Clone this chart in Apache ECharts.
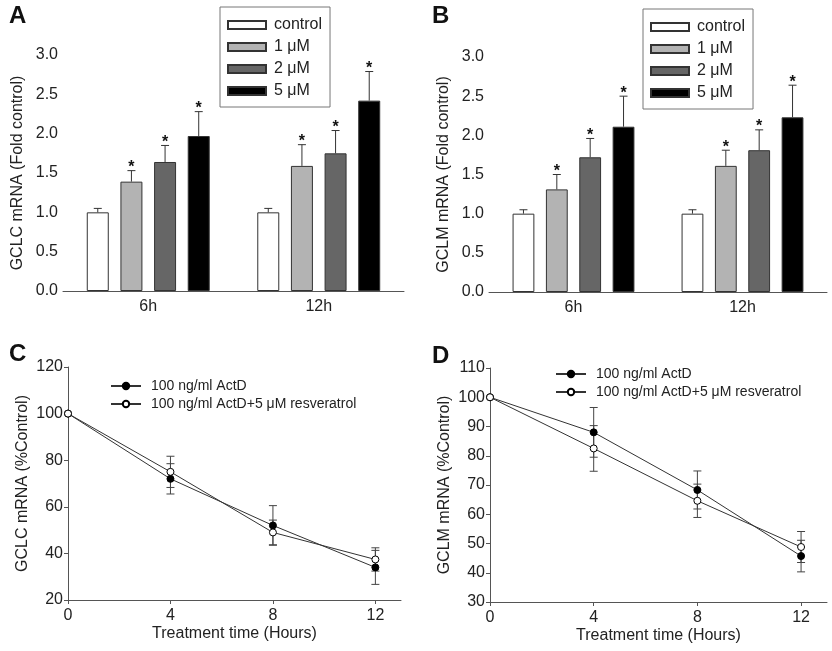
<!DOCTYPE html>
<html>
<head>
<meta charset="utf-8">
<title>GCLC / GCLM mRNA</title>
<script src="https://cdn.jsdelivr.net/npm/echarts@6/dist/echarts.min.js"></script>
<style>
  html, body { margin: 0; padding: 0; background: #fff; }
  #chart { width: 832px; height: 651px; }
</style>
</head>
<body>
<div id="chart"></div>
<script>
// ---- data ----
const groups = ['6h', '12h'];
const doses = ['control', '1 μM', '2 μM', '5 μM'];
const doseColors = ['#ffffff', '#b3b3b3', '#666666', '#000000'];
const starred = [0, 1, 1, 1];

// panel A: GCLC, one row per dose, [6h, 12h]
const gclcMean = [[1.00, 1.00], [1.39, 1.59], [1.64, 1.75], [1.97, 2.42]];
const gclcErr = [[0.05, 0.05], [0.14, 0.27], [0.21, 0.29], [0.31, 0.37]];
// panel B: GCLM
const gclmMean = [[1.00, 1.00], [1.31, 1.61], [1.72, 1.81], [2.11, 2.23]];
const gclmErr = [[0.05, 0.05], [0.19, 0.20], [0.24, 0.26], [0.39, 0.41]];

const hours = [0, 4, 8, 12];
const lineNames = ['100 ng/ml ActD', '100 ng/ml ActD+5 μM resveratrol'];
// panel C: GCLC decay
const gclcActD = [100, 72, 52, 34];
const gclcActDErr = [0, 6.5, 8.5, 7.3];
const gclcRes = [100, 75, 49, 37.4];
const gclcResErr = [0, 6.7, 5.3, 5.0];
// panel D: GCLM decay
const gclmActD = [100, 88, 68.3, 45.7];
const gclmActDErr = [0, 8.5, 6.5, 5.4];
const gclmRes = [100, 82.5, 64.6, 48.8];
const gclmResErr = [0, 7.8, 5.7, 5.3];

// ---- layout ----
const FONT = '"Liberation Sans", Arial, sans-serif';
const TXT = '#222';
const AXC = '#555';
const BAR_W = 0.129;   // bar width as share of the category band
const BAR_GAP = 0.53;  // gap between bars, share of bar width

const chart = echarts.init(document.getElementById('chart'));

function axisBase() {
  return {
    axisLine: { lineStyle: { color: AXC, width: 1 } },
    axisTick: { lineStyle: { color: AXC }, length: 4 },
    axisLabel: { color: TXT, fontSize: 16, fontFamily: FONT },
    splitLine: { show: false },
    nameTextStyle: { color: TXT, fontSize: 16, fontFamily: FONT }
  };
}

function catAxis(gi) {
  return Object.assign(axisBase(), {
    type: 'category', gridIndex: gi, data: groups,
    axisTick: { show: false },
    axisLabel: { color: TXT, fontSize: 16, fontFamily: FONT, margin: 8 }
  });
}

function valAxis(gi, min, max, step, name, digits) {
  const a = Object.assign(axisBase(), {
    type: 'value', gridIndex: gi, min: min, max: max, interval: step,
    name: name, nameLocation: 'middle', nameGap: 37
  });
  a.axisLabel = { color: TXT, fontSize: 16, fontFamily: FONT, margin: 5,
    formatter: v => v.toFixed(digits) };
  return a;
}

function timeAxis(gi) {
  const a = Object.assign(axisBase(), {
    type: 'value', gridIndex: gi, min: 0, max: 13, interval: 4,
    name: 'Treatment time (Hours)', nameLocation: 'middle', nameGap: 26
  });
  a.axisTick = { lineStyle: { color: AXC }, length: 4, customValues: hours };
  a.axisLabel = { color: TXT, fontSize: 16, fontFamily: FONT, margin: 8, customValues: hours };
  return a;
}

function barSeries(means, gi) {
  return doses.map((d, k) => ({
    name: d, type: 'bar', xAxisIndex: gi, yAxisIndex: gi,
    barWidth: (BAR_W * 100) + '%', barGap: (BAR_GAP * 100) + '%',
    itemStyle: { color: doseColors[k], borderColor: '#333', borderWidth: 1 },
    data: means[k]
  }));
}

function barErrItem(params, api) {
  const cat = api.value(0), val = api.value(1), top = api.value(2);
  const k = api.value(3), star = api.value(4);
  const base = api.coord([cat, val]);
  const end = api.coord([cat, top]);
  const band = api.size([1, 0])[0];
  const x = base[0] + (k - 1.5) * band * BAR_W * (1 + BAR_GAP);
  const st = { stroke: '#333', lineWidth: 1 };
  const kids = [
    { type: 'line', shape: { x1: x, y1: base[1], x2: x, y2: end[1] }, style: st },
    { type: 'line', shape: { x1: x - 4, y1: end[1], x2: x + 4, y2: end[1] }, style: st }
  ];
  if (star) {
    kids.push({ type: 'text', style: { text: '*', x: x, y: end[1] + 5,
      align: 'center', verticalAlign: 'bottom', fill: '#111',
      font: 'bold 16px ' + FONT } });
  }
  return { type: 'group', children: kids };
}

function barErrSeries(means, errs, gi) {
  const data = [];
  doses.forEach((d, k) => groups.forEach((g, c) => {
    data.push([c, means[k][c], means[k][c] + errs[k][c], k, starred[k]]);
  }));
  return { type: 'custom', name: 'err' + gi, xAxisIndex: gi, yAxisIndex: gi, z: 3,
    renderItem: barErrItem, data: data };
}

function lineErrItem(params, api) {
  const x = api.value(0), y = api.value(1), e = api.value(2);
  if (!e) return null;
  const hi = api.coord([x, y + e]), lo = api.coord([x, y - e]);
  const st = { stroke: '#444', lineWidth: 1 };
  return { type: 'group', children: [
    { type: 'line', shape: { x1: hi[0], y1: hi[1], x2: lo[0], y2: lo[1] }, style: st },
    { type: 'line', shape: { x1: hi[0] - 4, y1: hi[1], x2: hi[0] + 4, y2: hi[1] }, style: st },
    { type: 'line', shape: { x1: lo[0] - 4, y1: lo[1], x2: lo[0] + 4, y2: lo[1] }, style: st }
  ] };
}

function lineSeries(vals, errs, gi, k) {
  const filled = k === 0;
  return [
    { type: 'custom', name: 'lerr' + gi + k, xAxisIndex: gi, yAxisIndex: gi, z: 1,
      renderItem: lineErrItem, data: hours.map((h, i) => [h, vals[i], errs[i]]) },
    { name: lineNames[k], type: 'line', xAxisIndex: gi, yAxisIndex: gi, z: 2,
      symbol: 'circle', symbolSize: 7,
      lineStyle: { color: '#333', width: 1 },
      itemStyle: { color: filled ? '#000' : '#fff', borderColor: '#000', borderWidth: 1 },
      data: hours.map((h, i) => [h, vals[i]]) }
  ];
}

const barLegend = (left, top) => ({
  left: left, top: top, orient: 'vertical', data: doses, selectedMode: false,
  icon: 'rect', itemWidth: 38, itemHeight: 8, itemGap: 6,
  borderColor: '#777', borderWidth: 1, padding: [10, 8, 8, 7],
  textStyle: { color: TXT, fontSize: 16, fontFamily: FONT, lineHeight: 16, padding: [0, 0, 0, 3] }
});

const lineLegend = (left, top) => ({
  left: left, top: top, orient: 'vertical', data: lineNames, selectedMode: false,
  itemWidth: 30, itemHeight: 8, itemGap: 4, padding: 0,
  textStyle: { color: TXT, fontSize: 14, fontFamily: FONT, lineHeight: 14, padding: [0, 0, 0, 5] }
});

const letter = (t, x, y) => ({ type: 'text', left: x, top: y,
  style: { text: t, font: 'bold 24px ' + FONT, fill: '#111' } });

chart.setOption({
  backgroundColor: '#fff',
  animation: false,
  grid: [
    { left: 63, top: 55, width: 341, height: 236 },
    { left: 489, top: 57, width: 338, height: 235 },
    { left: 68, top: 367, width: 333, height: 233 },
    { left: 490, top: 368, width: 337, height: 234 }
  ],
  xAxis: [catAxis(0), catAxis(1), timeAxis(2), timeAxis(3)],
  yAxis: [
    valAxis(0, 0, 3, 0.5, 'GCLC mRNA (Fold control)', 1),
    valAxis(1, 0, 3, 0.5, 'GCLM mRNA (Fold control)', 1),
    valAxis(2, 20, 120, 20, 'GCLC mRNA (%Control)', 0),
    valAxis(3, 30, 110, 10, 'GCLM mRNA (%Control)', 0)
  ],
  legend: [barLegend(220, 7), barLegend(643, 9), lineLegend(110, 379), lineLegend(555, 367)],
  graphic: [letter('A', 9, 4), letter('B', 432, 4), letter('C', 9, 342), letter('D', 432, 344)],
  series: [].concat(
    barSeries(gclcMean, 0), [barErrSeries(gclcMean, gclcErr, 0)],
    barSeries(gclmMean, 1), [barErrSeries(gclmMean, gclmErr, 1)],
    lineSeries(gclcActD, gclcActDErr, 2, 0), lineSeries(gclcRes, gclcResErr, 2, 1),
    lineSeries(gclmActD, gclmActDErr, 3, 0), lineSeries(gclmRes, gclmResErr, 3, 1)
  )
});
</script>
</body>
</html>
